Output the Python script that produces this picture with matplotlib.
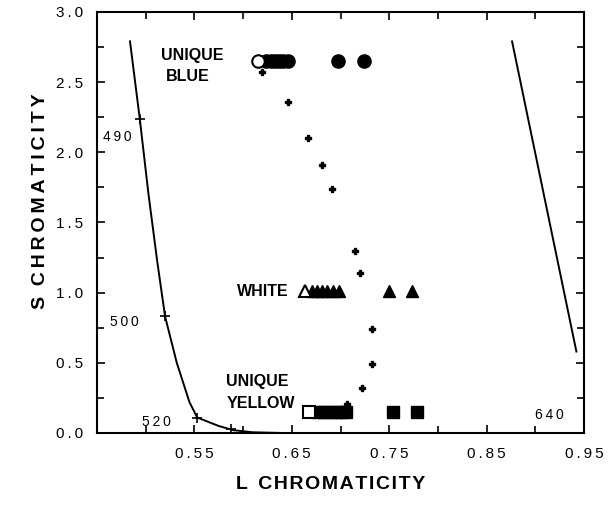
import numpy as np
import matplotlib
matplotlib.use("Agg")
import matplotlib.pyplot as plt
from matplotlib.ticker import MultipleLocator

plt.rcParams['font.family'] = ['Liberation Sans', 'DejaVu Sans']

# --- spectrum locus ---
locus_l = [0.484, 0.494, 0.503, 0.512, 0.520, 0.532, 0.545, 0.553, 0.575, 0.590, 0.610, 0.640]
locus_s = [2.79, 2.24, 1.70, 1.22, 0.83, 0.50, 0.22, 0.11, 0.05, 0.02, 0.005, 0.0]
locus_marks_l = [0.494, 0.520, 0.553, 0.588]
locus_marks_s = [2.24, 0.83, 0.11, 0.025]
red_l = [0.876, 0.942]
red_s = [2.79, 0.58]
wl_labels = ["490", "500", "520", "640"]
wl_pos = [(0.456, 2.11), (0.463, 0.79), (0.496, 0.08), (0.900, 0.13)]

# --- small crosses ---
dots_l = [0.619, 0.646, 0.667, 0.681, 0.691, 0.715, 0.720, 0.732, 0.732, 0.722, 0.707]
dots_s = [2.57, 2.36, 2.10, 1.91, 1.74, 1.30, 1.14, 0.74, 0.49, 0.32, 0.21]

# --- unique hue settings ---
blue_open_l, blue_s = 0.615, 2.65
blue_l = [0.624, 0.629, 0.633, 0.637, 0.641, 0.646, 0.697, 0.724]
white_open_l, white_s = 0.664, 1.01
white_l = [0.671, 0.676, 0.681, 0.686, 0.692, 0.698, 0.750, 0.773]
yellow_open_l, yellow_s = 0.668, 0.15
yellow_l = [0.677, 0.683, 0.689, 0.695, 0.701, 0.706, 0.754, 0.778]

xtick_vals = [0.55, 0.65, 0.75, 0.85, 0.95]
ytick_vals = [0.0, 0.5, 1.0, 1.5, 2.0, 2.5, 3.0]


def spaced(s, sp="\u2009"):
    return sp.join(s)


fig = plt.figure(figsize=(6.13, 5.17), dpi=100)
ax = fig.add_axes([0.158, 0.1625, 0.795, 0.8145])

ax.plot(locus_l, locus_s, color='black', lw=1.4)
ax.plot(locus_marks_l, locus_marks_s, ls='none', marker='+', ms=7, mew=1.2, color='black')
ax.plot(red_l, red_s, color='black', lw=1.4)
for txt, (x, y) in zip(wl_labels, wl_pos):
    ax.text(x, y, spaced(txt), fontsize=10, ha='left', va='center')

ax.plot(dots_l, dots_s, ls='none', marker='P', ms=4, color='black')

ax.plot(blue_l, [blue_s] * len(blue_l), ls='none', marker='o', ms=9.5, color='black')
ax.plot([blue_open_l], [blue_s], ls='none', marker='o', ms=9, mfc='white', mec='black', mew=1.5)
ax.plot(white_l, [white_s] * len(white_l), ls='none', marker='^', ms=9, color='black')
ax.plot([white_open_l], [white_s], ls='none', marker='^', ms=8, mfc='white', mec='black', mew=1.5)
ax.plot(yellow_l, [yellow_s] * len(yellow_l), ls='none', marker='s', ms=8, color='black')
ax.plot([yellow_open_l], [yellow_s], ls='none', marker='s', ms=8, mfc='white', mec='black', mew=1.5)

lab = dict(fontsize=11.5, fontweight='bold', ha='left', va='center')
ax.text(0.516, 2.69, "UNIQUE", **lab)
ax.text(0.521, 2.54, "BLUE", **lab)
ax.text(0.594, 1.01, "WHITE", **lab)
ax.text(0.583, 0.37, "UNIQUE", **lab)
ax.text(0.583, 0.21, "YELLOW", **lab)

ax.set_xlim(0.45, 0.95)
ax.set_ylim(0.0, 3.0)
ax.set_xticks(xtick_vals)
ax.set_xticklabels([spaced(f"{v:.2f}") for v in xtick_vals])
ax.xaxis.set_minor_locator(MultipleLocator(0.05))
ax.set_yticks(ytick_vals)
ax.set_yticklabels([spaced(f"{v:.1f}") for v in ytick_vals])
ax.yaxis.set_minor_locator(MultipleLocator(0.25))
ax.tick_params(which='both', direction='in', top=True, right=True, labelsize=11, width=1.2)
ax.tick_params(which='major', length=6, pad=10)
ax.tick_params(which='minor', length=5)
for sp in ax.spines.values():
    sp.set_linewidth(1.5)

ax.set_xlabel("L  " + spaced("CHROMATICITY", "\u200a"), fontsize=14, fontweight='bold')
ax.set_ylabel("S  " + spaced("CHROMATICITY"), fontsize=14, fontweight='bold')
ax.xaxis.set_label_coords(0.480, -0.102)
ax.yaxis.set_label_coords(-0.099, 0.55)

fig.savefig("out.png", dpi=100)
